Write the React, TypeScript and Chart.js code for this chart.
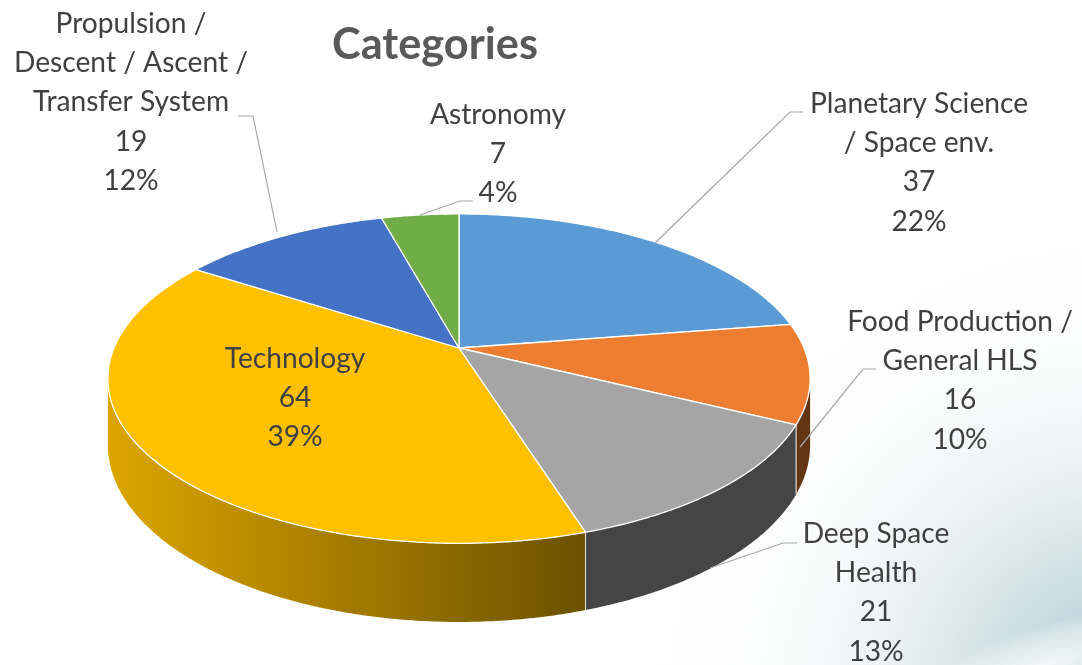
import React, { useEffect, useRef } from "react";
import { Chart, registerables } from "chart.js";

Chart.register(...registerables);

// ---------- data ----------
const chartTitle = "Categories";
const categories = [
  "Planetary Science / Space env.",
  "Food Production / General HLS",
  "Deep Space Health",
  "Technology",
  "Propulsion / Descent / Ascent / Transfer System",
  "Astronomy",
];
const counts = [37, 16, 21, 64, 19, 7];
const percentLabels = ["22%", "10%", "13%", "39%", "12%", "4%"];
const nameLines = [
  ["Planetary Science", "/ Space env."],
  ["Food Production /", "General HLS"],
  ["Deep Space", "Health"],
  ["Technology"],
  ["Propulsion /", "Descent / Ascent /", "Transfer System"],
  ["Astronomy"],
];
const sliceColors = ["#5B9BD5", "#ED7D31", "#A5A5A5", "#FFC000", "#4472C4", "#70AD47"];

// ---------- layout ----------
const GEO = { cx: 459, cy: 348, rx: 345, ry: 159, persp: 0.186, depth: 64 };
const LINE_H = 39.2;
const LABEL_POS: { x: number; y: number; leader: number[][] | null }[] = [
  { x: 919, y: 113, leader: [[803, 112], [790, 112], [655, 243]] },
  { x: 960, y: 331, leader: [[876, 369], [863, 369], [800, 447]] },
  { x: 876, y: 543, leader: [[797, 543], [783, 543], [710, 568]] },
  { x: 295, y: 368, leader: null },
  { x: 131, y: 33, leader: [[238, 116], [253, 116], [277, 232]] },
  { x: 498, y: 124, leader: [[473, 201], [460, 201], [420, 215]] },
];
const FONT = "Lato, 'Open Sans', sans-serif";

function project(a: number, z: number): [number, number] {
  const u = Math.cos(a);
  const v = Math.sin(a);
  const s = 1 / (1 - GEO.persp * v);
  return [GEO.cx + GEO.rx * u * s, GEO.cy + (GEO.ry * v + GEO.depth * z) * s];
}

function hexRgb(h: string): number[] {
  const n = parseInt(h.slice(1), 16);
  return [(n >> 16) & 255, (n >> 8) & 255, n & 255];
}
function shade(h: string, f: number): string {
  const [r, g, b] = hexRgb(h);
  return `rgb(${Math.round(r * f)},${Math.round(g * f)},${Math.round(b * f)})`;
}
function wallFactor(x: number): number {
  return Math.max(0.42, 0.86 - (0.44 * (x - 110)) / 475);
}

const bgPlugin = {
  id: "bg",
  beforeDraw(chart: any) {
    const ctx = chart.ctx as CanvasRenderingContext2D;
    const W = chart.width, H = chart.height;
    ctx.save();
    ctx.fillStyle = "#ffffff";
    ctx.fillRect(0, 0, W, H);
    const g = ctx.createRadialGradient(1120, 700, 0, 1120, 700, 480);
    g.addColorStop(0, "rgba(150,190,198,0.85)");
    g.addColorStop(0.3, "rgba(185,210,215,0.65)");
    g.addColorStop(0.6, "rgba(225,233,236,0.35)");
    g.addColorStop(1, "rgba(255,255,255,0)");
    ctx.fillStyle = g;
    ctx.fillRect(0, 0, W, H);
    // soft cloud band in the corner
    ctx.translate(1040, 668);
    ctx.rotate(-0.32);
    ctx.scale(1, 0.25);
    const c = ctx.createRadialGradient(0, 0, 0, 0, 0, 160);
    c.addColorStop(0, "rgba(255,255,255,0.85)");
    c.addColorStop(0.6, "rgba(245,249,250,0.5)");
    c.addColorStop(1, "rgba(255,255,255,0)");
    ctx.fillStyle = c;
    ctx.beginPath();
    ctx.arc(0, 0, 160, 0, Math.PI * 2);
    ctx.fill();
    ctx.restore();
  },
};

const pie3dPlugin = {
  id: "pie3d",
  beforeDatasetsDraw(chart: any) {
    const ctx = chart.ctx as CanvasRenderingContext2D;
    const arcs = chart.getDatasetMeta(0).data as any[];
    const colors = chart.data.datasets[0].backgroundColor as string[];
    const visLo = Math.asin(GEO.persp);
    const visHi = Math.PI - visLo;
    ctx.save();
    // side walls
    arcs.forEach((arc, i) => {
      const sa = arc.startAngle as number;
      const ea = arc.endAngle as number;
      for (const off of [0, 2 * Math.PI, -2 * Math.PI]) {
        const a0 = Math.max(sa + off, visLo);
        const a1 = Math.min(ea + off, visHi);
        if (a1 <= a0) continue;
        const n = Math.max(2, Math.ceil((a1 - a0) / 0.01));
        ctx.beginPath();
        for (let k = 0; k <= n; k++) {
          const [x, y] = project(a0 + ((a1 - a0) * k) / n, 0);
          if (k === 0) ctx.moveTo(x, y);
          else ctx.lineTo(x, y);
        }
        for (let k = n; k >= 0; k--) {
          const [x, y] = project(a0 + ((a1 - a0) * k) / n, 1);
          ctx.lineTo(x, y);
        }
        ctx.closePath();
        const gx0 = 100, gx1 = 820;
        const grad = ctx.createLinearGradient(gx0, 0, gx1, 0);
        for (const x of [100, 110, 200, 300, 400, 500, 585, 700, 820]) {
          grad.addColorStop((x - gx0) / (gx1 - gx0), shade(colors[i], wallFactor(x)));
        }
        ctx.fillStyle = grad;
        ctx.fill();
        // slice boundary edges on the wall
        ctx.strokeStyle = "rgba(255,255,255,0.75)";
        ctx.lineWidth = 1;
        for (const [a, isEdge] of [[a0, a0 === sa + off], [a1, a1 === ea + off]] as [number, boolean][]) {
          if (!isEdge) continue;
          const [x0, y0] = project(a, 0);
          const [x1, y1] = project(a, 1);
          ctx.beginPath();
          ctx.moveTo(x0, y0);
          ctx.lineTo(x1, y1);
          ctx.stroke();
        }
      }
    });
    // top faces
    arcs.forEach((arc, i) => {
      const sa = arc.startAngle as number;
      const ea = arc.endAngle as number;
      const n = Math.max(2, Math.ceil((ea - sa) / 0.008));
      ctx.beginPath();
      ctx.moveTo(GEO.cx, GEO.cy);
      for (let k = 0; k <= n; k++) {
        const [x, y] = project(sa + ((ea - sa) * k) / n, 0);
        ctx.lineTo(x, y);
      }
      ctx.closePath();
      ctx.fillStyle = colors[i];
      ctx.fill();
      ctx.strokeStyle = "#ffffff";
      ctx.lineWidth = 1.3;
      ctx.lineJoin = "round";
      ctx.stroke();
    });
    ctx.restore();
    return false;
  },
};

const labelPlugin = {
  id: "labels3d",
  afterDraw(chart: any) {
    const ctx = chart.ctx as CanvasRenderingContext2D;
    ctx.save();
    // fit font sizes to the reference widths
    ctx.font = `100px ${FONT}`;
    const lw = ctx.measureText("Descent / Ascent /").width;
    const labelSize = (100 * 234) / lw;
    ctx.font = `bold 100px ${FONT}`;
    const tw = ctx.measureText(chartTitle).width;
    const titleSize = (100 * 206) / tw;

    ctx.fillStyle = "#595959";
    ctx.textAlign = "center";
    ctx.textBaseline = "alphabetic";
    ctx.font = `bold ${titleSize}px ${FONT}`;
    ctx.fillText(chartTitle, 435, 59);

    // leader lines
    ctx.strokeStyle = "#a6a6a6";
    ctx.lineWidth = 1.2;
    LABEL_POS.forEach((p) => {
      if (!p.leader) return;
      ctx.beginPath();
      p.leader.forEach(([x, y], k) => (k === 0 ? ctx.moveTo(x, y) : ctx.lineTo(x, y)));
      ctx.stroke();
    });

    ctx.fillStyle = "#404040";
    ctx.font = `${labelSize}px ${FONT}`;
    const values = chart.data.datasets[0].data as number[];
    LABEL_POS.forEach((p, i) => {
      const lines = [...nameLines[i], String(values[i]), percentLabels[i]];
      lines.forEach((t, k) => ctx.fillText(t, p.x, p.y + k * LINE_H));
    });
    ctx.restore();
  },
};

export default function App() {
  const ref = useRef<HTMLCanvasElement>(null);
  useEffect(() => {
    const chart = new Chart(ref.current as HTMLCanvasElement, {
      type: "pie",
      data: {
        labels: categories,
        datasets: [
          {
            data: counts,
            backgroundColor: sliceColors,
            borderColor: "#ffffff",
            borderWidth: 1,
          },
        ],
      },
      options: {
        responsive: true,
        maintainAspectRatio: false,
        animation: false,
        events: [],
        layout: { padding: 0 },
        plugins: {
          legend: { display: false },
          tooltip: { enabled: false },
          title: { display: false },
        },
      },
      plugins: [bgPlugin, pie3dPlugin, labelPlugin],
    } as any);
    return () => chart.destroy();
  }, []);
  return (
    <div style={{ position: "fixed", left: 0, top: 0, width: 1082, height: 665 }}>
      <canvas ref={ref} />
    </div>
  );
}
